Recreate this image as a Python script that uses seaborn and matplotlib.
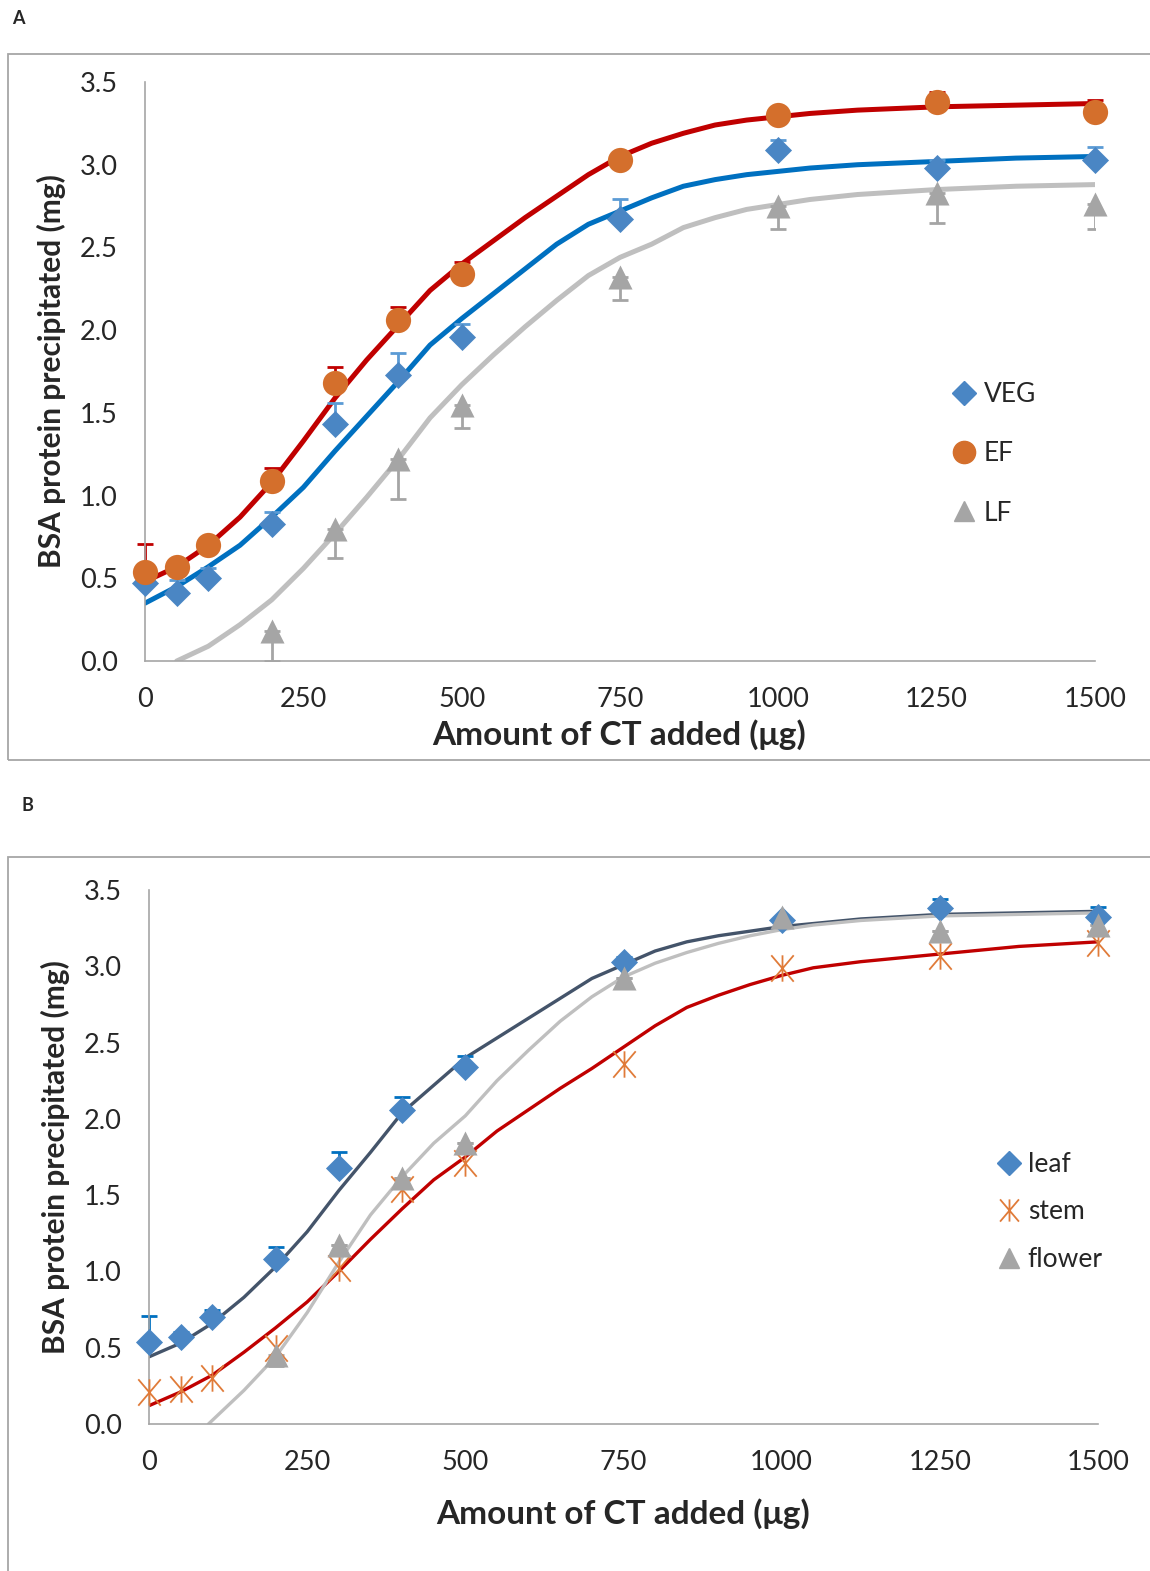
import numpy as np
import seaborn as sns
import matplotlib.pyplot as plt
from matplotlib.lines import Line2D
from matplotlib.patches import Rectangle
from matplotlib.path import Path

# amount of CT added (ug)
x_pts = [0, 50, 100, 200, 300, 400, 500, 750, 1000, 1250, 1500]
x_late = [200, 300, 400, 500, 750, 1000, 1250, 1500]

# panel A measured points
veg = [0.47, 0.41, 0.50, 0.83, 1.43, 1.73, 1.96, 2.67, 3.09, 2.98, 3.03]
veg_err = [0.0, 0.08, 0.06, 0.07, 0.13, 0.13, 0.08, 0.12, 0.06, 0.05, 0.08]
ef = [0.54, 0.57, 0.70, 1.09, 1.68, 2.06, 2.34, 3.03, 3.30, 3.38, 3.32]
ef_err = [0.17, 0.02, 0.03, 0.08, 0.10, 0.08, 0.07, 0.03, 0.02, 0.06, 0.07]
lf = [0.18, 0.80, 1.22, 1.55, 2.32, 2.75, 2.83, 2.76]
lf_err = [0.18, 0.18, 0.24, 0.14, 0.14, 0.14, 0.18, 0.15]

# fitted curves
fit_x = [0, 50, 100, 150, 200, 250, 300, 350, 400, 450, 500, 550, 600, 650, 700,
         750, 800, 850, 900, 950, 1000, 1050, 1125, 1250, 1375, 1500]
fit_ef = [0.48, 0.57, 0.70, 0.87, 1.08, 1.33, 1.59, 1.82, 2.03, 2.24, 2.40, 2.54, 2.68, 2.81, 2.94,
          3.05, 3.13, 3.19, 3.24, 3.27, 3.29, 3.31, 3.33, 3.35, 3.36, 3.37]
fit_veg = [0.35, 0.45, 0.57, 0.70, 0.87, 1.05, 1.27, 1.48, 1.69, 1.91, 2.07, 2.22, 2.37, 2.52, 2.64,
           2.72, 2.80, 2.87, 2.91, 2.94, 2.96, 2.98, 3.00, 3.02, 3.04, 3.05]
fit_lf_x = fit_x[1:]
fit_lf = [0.0, 0.09, 0.22, 0.37, 0.56, 0.77, 0.99, 1.22, 1.47, 1.67, 1.85, 2.02, 2.18, 2.33,
          2.44, 2.52, 2.62, 2.68, 2.73, 2.76, 2.79, 2.82, 2.85, 2.87, 2.88]

# panel B measured points
leaf = [0.54, 0.57, 0.70, 1.08, 1.68, 2.06, 2.34, 3.03, 3.30, 3.38, 3.32]
leaf_err = [0.17, 0.03, 0.05, 0.08, 0.10, 0.08, 0.07, 0.03, 0.02, 0.06, 0.07]
stem = [0.21, 0.23, 0.30, 0.50, 1.02, 1.54, 1.71, 2.36, 2.99, 3.07, 3.15]
flower = [0.45, 1.17, 1.61, 1.84, 2.92, 3.32, 3.23, 3.27]
flower_err = [0.07, 0.0, 0.0, 0.0, 0.0, 0.0, 0.0, 0.0]

fit_leaf = [0.44, 0.53, 0.66, 0.83, 1.03, 1.26, 1.53, 1.78, 2.04, 2.22, 2.40, 2.53, 2.66, 2.79, 2.92,
            3.01, 3.10, 3.16, 3.20, 3.23, 3.26, 3.28, 3.31, 3.34, 3.35, 3.36]
fit_stem = [0.12, 0.21, 0.32, 0.47, 0.63, 0.80, 1.00, 1.21, 1.41, 1.60, 1.75, 1.92, 2.06, 2.20, 2.33,
            2.47, 2.61, 2.73, 2.81, 2.88, 2.94, 2.99, 3.03, 3.08, 3.13, 3.16]
fit_fl_x = [94] + fit_x[3:]
fit_flower = [0.0, 0.22, 0.44, 0.73, 1.06, 1.37, 1.62, 1.84, 2.02, 2.25, 2.45, 2.64, 2.80,
              2.93, 3.02, 3.09, 3.15, 3.20, 3.24, 3.27, 3.30, 3.33, 3.34, 3.35]

x_ticks = [0, 250, 500, 750, 1000, 1250, 1500]
y_ticks = [0.0, 0.5, 1.0, 1.5, 2.0, 2.5, 3.0, 3.5]

sns.set_style("white")
plt.rcParams['font.family'] = ['Lato', 'DejaVu Sans']

# excel-like star: an X with a vertical bar
star = Path([(0, -1), (0, 1), (-0.85, -1), (0.85, 1), (-0.85, 1), (0.85, -1)],
            [Path.MOVETO, Path.LINETO, Path.MOVETO, Path.LINETO, Path.MOVETO, Path.LINETO])

fig = plt.figure(figsize=(11.5, 15.71), dpi=100)
ax_a = fig.add_axes([0.1261, 0.5792, 0.8261, 0.3686])
ax_b = fig.add_axes([0.1296, 0.0936, 0.8252, 0.3399])

# panel frames
fig.patches.append(Rectangle((8 / 1150, 1 - 760 / 1571), 1.2, (760 - 54) / 1571,
                             transform=fig.transFigure, fill=False, edgecolor='#a6a6a6', lw=1.3))
fig.patches.append(Rectangle((8 / 1150, -0.1), 1.2, 0.1 + (1571 - 857) / 1571,
                             transform=fig.transFigure, fill=False, edgecolor='#a6a6a6', lw=1.3))
fig.text(18 / 1150, 1 - 18 / 1571, "A", fontsize=13, fontweight='bold', ha='center', va='center')
fig.text(27 / 1150, 1 - 805 / 1571, "B", fontsize=13, fontweight='bold', ha='center', va='center')


def style_axes(ax):
    ax.set_xlim(0, 1500)
    ax.set_ylim(0, 3.5)
    ax.set_xticks(x_ticks)
    ax.set_yticks(y_ticks)
    ax.set_yticklabels([f"{v:.1f}" for v in y_ticks])
    for s in ['top', 'right']:
        ax.spines[s].set_visible(False)
    for s in ['left', 'bottom']:
        ax.spines[s].set_color('#a6a6a6')
        ax.spines[s].set_linewidth(1.2)
    ax.tick_params(axis='both', length=6.5, width=1.2, color='#a6a6a6', labelsize=19.5, pad=13)
    ax.tick_params(axis='x', pad=12)


# ---- panel A ----
ax = ax_a
style_axes(ax)
sns.lineplot(x=fit_x, y=fit_veg, ax=ax, color='#0070c0', linewidth=3.6, sort=False, legend=False,
             solid_joinstyle='round')
sns.lineplot(x=fit_x, y=fit_ef, ax=ax, color='#c00000', linewidth=3.6, sort=False, legend=False,
             solid_joinstyle='round')
sns.lineplot(x=fit_lf_x, y=fit_lf, ax=ax, color='#bfbfbf', linewidth=3.6, sort=False, legend=False,
             solid_joinstyle='round')
ax.errorbar(x_pts, veg, yerr=[np.zeros(len(veg)), veg_err], fmt='none', ecolor='#5b9bd5',
            elinewidth=2, capsize=6, capthick=2, clip_on=False)
ax.errorbar(x_pts, ef, yerr=[np.zeros(len(ef)), ef_err], fmt='none', ecolor='#c00000',
            elinewidth=2, capsize=6, capthick=2, clip_on=False)
ax.errorbar(x_late, lf, yerr=[lf_err, np.zeros(len(lf))], fmt='none', ecolor='#a5a5a5',
            elinewidth=2, capsize=6, capthick=2)
sns.scatterplot(x=x_pts, y=veg, ax=ax, marker='D', s=190, color='#4a86c4', linewidth=0, zorder=5, clip_on=False)
sns.scatterplot(x=x_pts, y=ef, ax=ax, marker='o', s=330, color='#d46f2c', linewidth=0, zorder=5, clip_on=False)
sns.scatterplot(x=x_late, y=lf, ax=ax, marker='^', s=300, color='#a5a5a5', linewidth=0, zorder=5, clip_on=False)
ax.text(0.499, -0.127, "Amount of CT added (\u03bcg)", transform=ax.transAxes, ha='center', va='center',
        fontsize=24, fontweight='bold')
ax.text(-0.098, 0.5, "BSA protein precipitated (mg)", transform=ax.transAxes, ha='center', va='center',
        rotation=90, fontsize=21.5, fontweight='bold')
handles = [Line2D([], [], ls='none', marker='D', ms=12, color='#4a86c4'),
           Line2D([], [], ls='none', marker='o', ms=16, color='#d46f2c'),
           Line2D([], [], ls='none', marker='^', ms=15, color='#a5a5a5')]
ax.legend(handles, ["VEG", "EF", "LF"], loc='center left', bbox_to_anchor=(0.836, 0.358),
          frameon=False, fontsize=19, handlelength=0.9, handletextpad=0.3, labelspacing=1.3, borderpad=0)

# ---- panel B ----
ax = ax_b
style_axes(ax)
sns.lineplot(x=fit_x, y=fit_leaf, ax=ax, color='#44546a', linewidth=2.4, sort=False, legend=False,
             solid_joinstyle='round')
sns.lineplot(x=fit_x, y=fit_stem, ax=ax, color='#c00000', linewidth=2.4, sort=False, legend=False,
             solid_joinstyle='round')
sns.lineplot(x=fit_fl_x, y=fit_flower, ax=ax, color='#bfbfbf', linewidth=2.4, sort=False, legend=False,
             solid_joinstyle='round')
ax.errorbar(x_pts, leaf, yerr=[np.zeros(len(leaf)), leaf_err], fmt='none', ecolor='#0070c0',
            elinewidth=2, capsize=6, capthick=2, clip_on=False)
ax.errorbar(x_late, flower, yerr=[flower_err, np.zeros(len(flower))], fmt='none', ecolor='#a5a5a5',
            elinewidth=2, capsize=6, capthick=2)
sns.scatterplot(x=x_pts, y=leaf, ax=ax, marker='D', s=190, color='#4a86c4', linewidth=0, zorder=5, clip_on=False)
ax.plot(x_pts, stem, ls='none', marker=star, ms=19, mew=1.3, mfc='none', color='#e07b39', zorder=5, clip_on=False)
sns.scatterplot(x=x_late, y=flower, ax=ax, marker='^', s=300, color='#a5a5a5', linewidth=0, zorder=5, clip_on=False)
ax.text(0.4995, -0.167, "Amount of CT added (\u03bcg)", transform=ax.transAxes, ha='center', va='center',
        fontsize=24, fontweight='bold')
ax.text(-0.099, 0.5, "BSA protein precipitated (mg)", transform=ax.transAxes, ha='center', va='center',
        rotation=90, fontsize=21.5, fontweight='bold')
handles = [Line2D([], [], ls='none', marker='D', ms=12, color='#4a86c4'),
           Line2D([], [], ls='none', marker=star, ms=16, mew=1.3, mfc='none', color='#e07b39'),
           Line2D([], [], ls='none', marker='^', ms=15, color='#a5a5a5')]
ax.legend(handles, ["leaf", "stem", "flower"], loc='center left', bbox_to_anchor=(0.88, 0.397),
          frameon=False, fontsize=19, handlelength=0.9, handletextpad=0.25, labelspacing=0.85, borderpad=0)

fig.savefig("out.png", dpi=100)
